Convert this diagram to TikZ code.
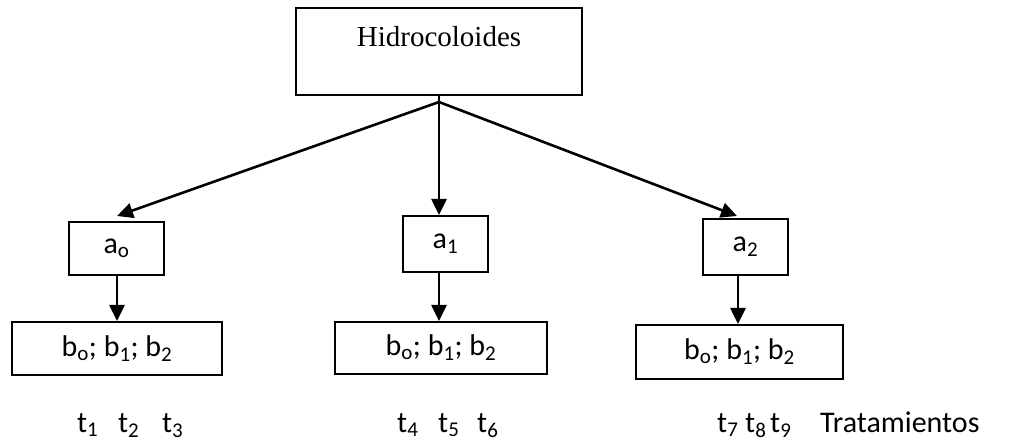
\documentclass[tikz,border=0pt]{standalone}
\usepackage{fontspec}
\setmainfont{Liberation Serif}
\newfontfamily\calfont{Carlito}
\usetikzlibrary{arrows.meta}
\tikzset{
  boxnode/.style={draw, line width=2pt, inner sep=0pt, font=\calfont\fontsize{30}{36}\selectfont},
  arr/.style={line width=2.6pt, -{Triangle[length=16pt,width=15pt]}},
  tlab/.style={anchor=base west, inner sep=0pt, font=\calfont\fontsize{30}{36}\selectfont}
}
\begin{document}
\begin{tikzpicture}[x=1pt,y=-1pt]
\useasboundingbox (0,0) rectangle (1013,446);
% top box
\node[boxnode, minimum width=286pt, minimum height=87pt] (top) at (439,51.5) {};
\node[inner sep=0pt, font=\fontsize{29}{34}\selectfont] (toptext) at (439,37) {Hidrocoloides};
\coordinate (jn) at (439,102);
% level a
\node[boxnode, minimum width=95pt, minimum height=53pt] (a0) at (116.5,248.5) {a\textsubscript{o}};
\node[boxnode, minimum width=85pt, minimum height=56pt] (a1) at (445.5,244) {a\textsubscript{1}};
\node[boxnode, minimum width=85pt, minimum height=56pt] (a2) at (745.5,247) {a\textsubscript{2}};
% level b
\node[boxnode, minimum width=210pt, minimum height=53pt] (b0) at (117,348.5) {b\textsubscript{o}; b\textsubscript{1}; b\textsubscript{2}};
\node[boxnode, minimum width=212pt, minimum height=52pt] (b1) at (441,348) {b\textsubscript{o}; b\textsubscript{1}; b\textsubscript{2}};
\node[boxnode, minimum width=207pt, minimum height=54pt] (b2) at (739.5,352) {b\textsubscript{o}; b\textsubscript{1}; b\textsubscript{2}};
% connectors
\coordinate (tip0) at (117,216);
\coordinate (tip2) at (737,216);
\draw[line width=2.6pt] (top.south) -- (jn);
\draw[arr] (jn) -- (tip0);
\draw[arr] (jn) -- (jn |- a1.north);
\draw[arr] (jn) -- (tip2);
\draw[arr] (a0.south -| b0.north) -- (b0.north);
\draw[arr] (a1.south -| jn) -- (jn |- b1.north);
\draw[arr] (738,275) coordinate (s2) -- (s2 |- b2.north);
% treatments
\node[tlab] (t1) at (77,432) {t\textsubscript{1}};
\node[tlab] (t2) at (118,432) {t\textsubscript{2}};
\node[tlab] (t3) at (162,432) {t\textsubscript{3}};
\node[tlab] (t4) at (397,432) {t\textsubscript{4}};
\node[tlab] (t5) at (438,432) {t\textsubscript{5}};
\node[tlab] (t6) at (477,432) {t\textsubscript{6}};
\node[tlab] (t7) at (717,432) {t\textsubscript{7}};
\node[tlab] (t8) at (745,432) {t\textsubscript{8}};
\node[tlab] (t9) at (770,432) {t\textsubscript{9}};
\node[tlab] (trat) at (820,432) {Tratamientos};
\end{tikzpicture}
\end{document}
